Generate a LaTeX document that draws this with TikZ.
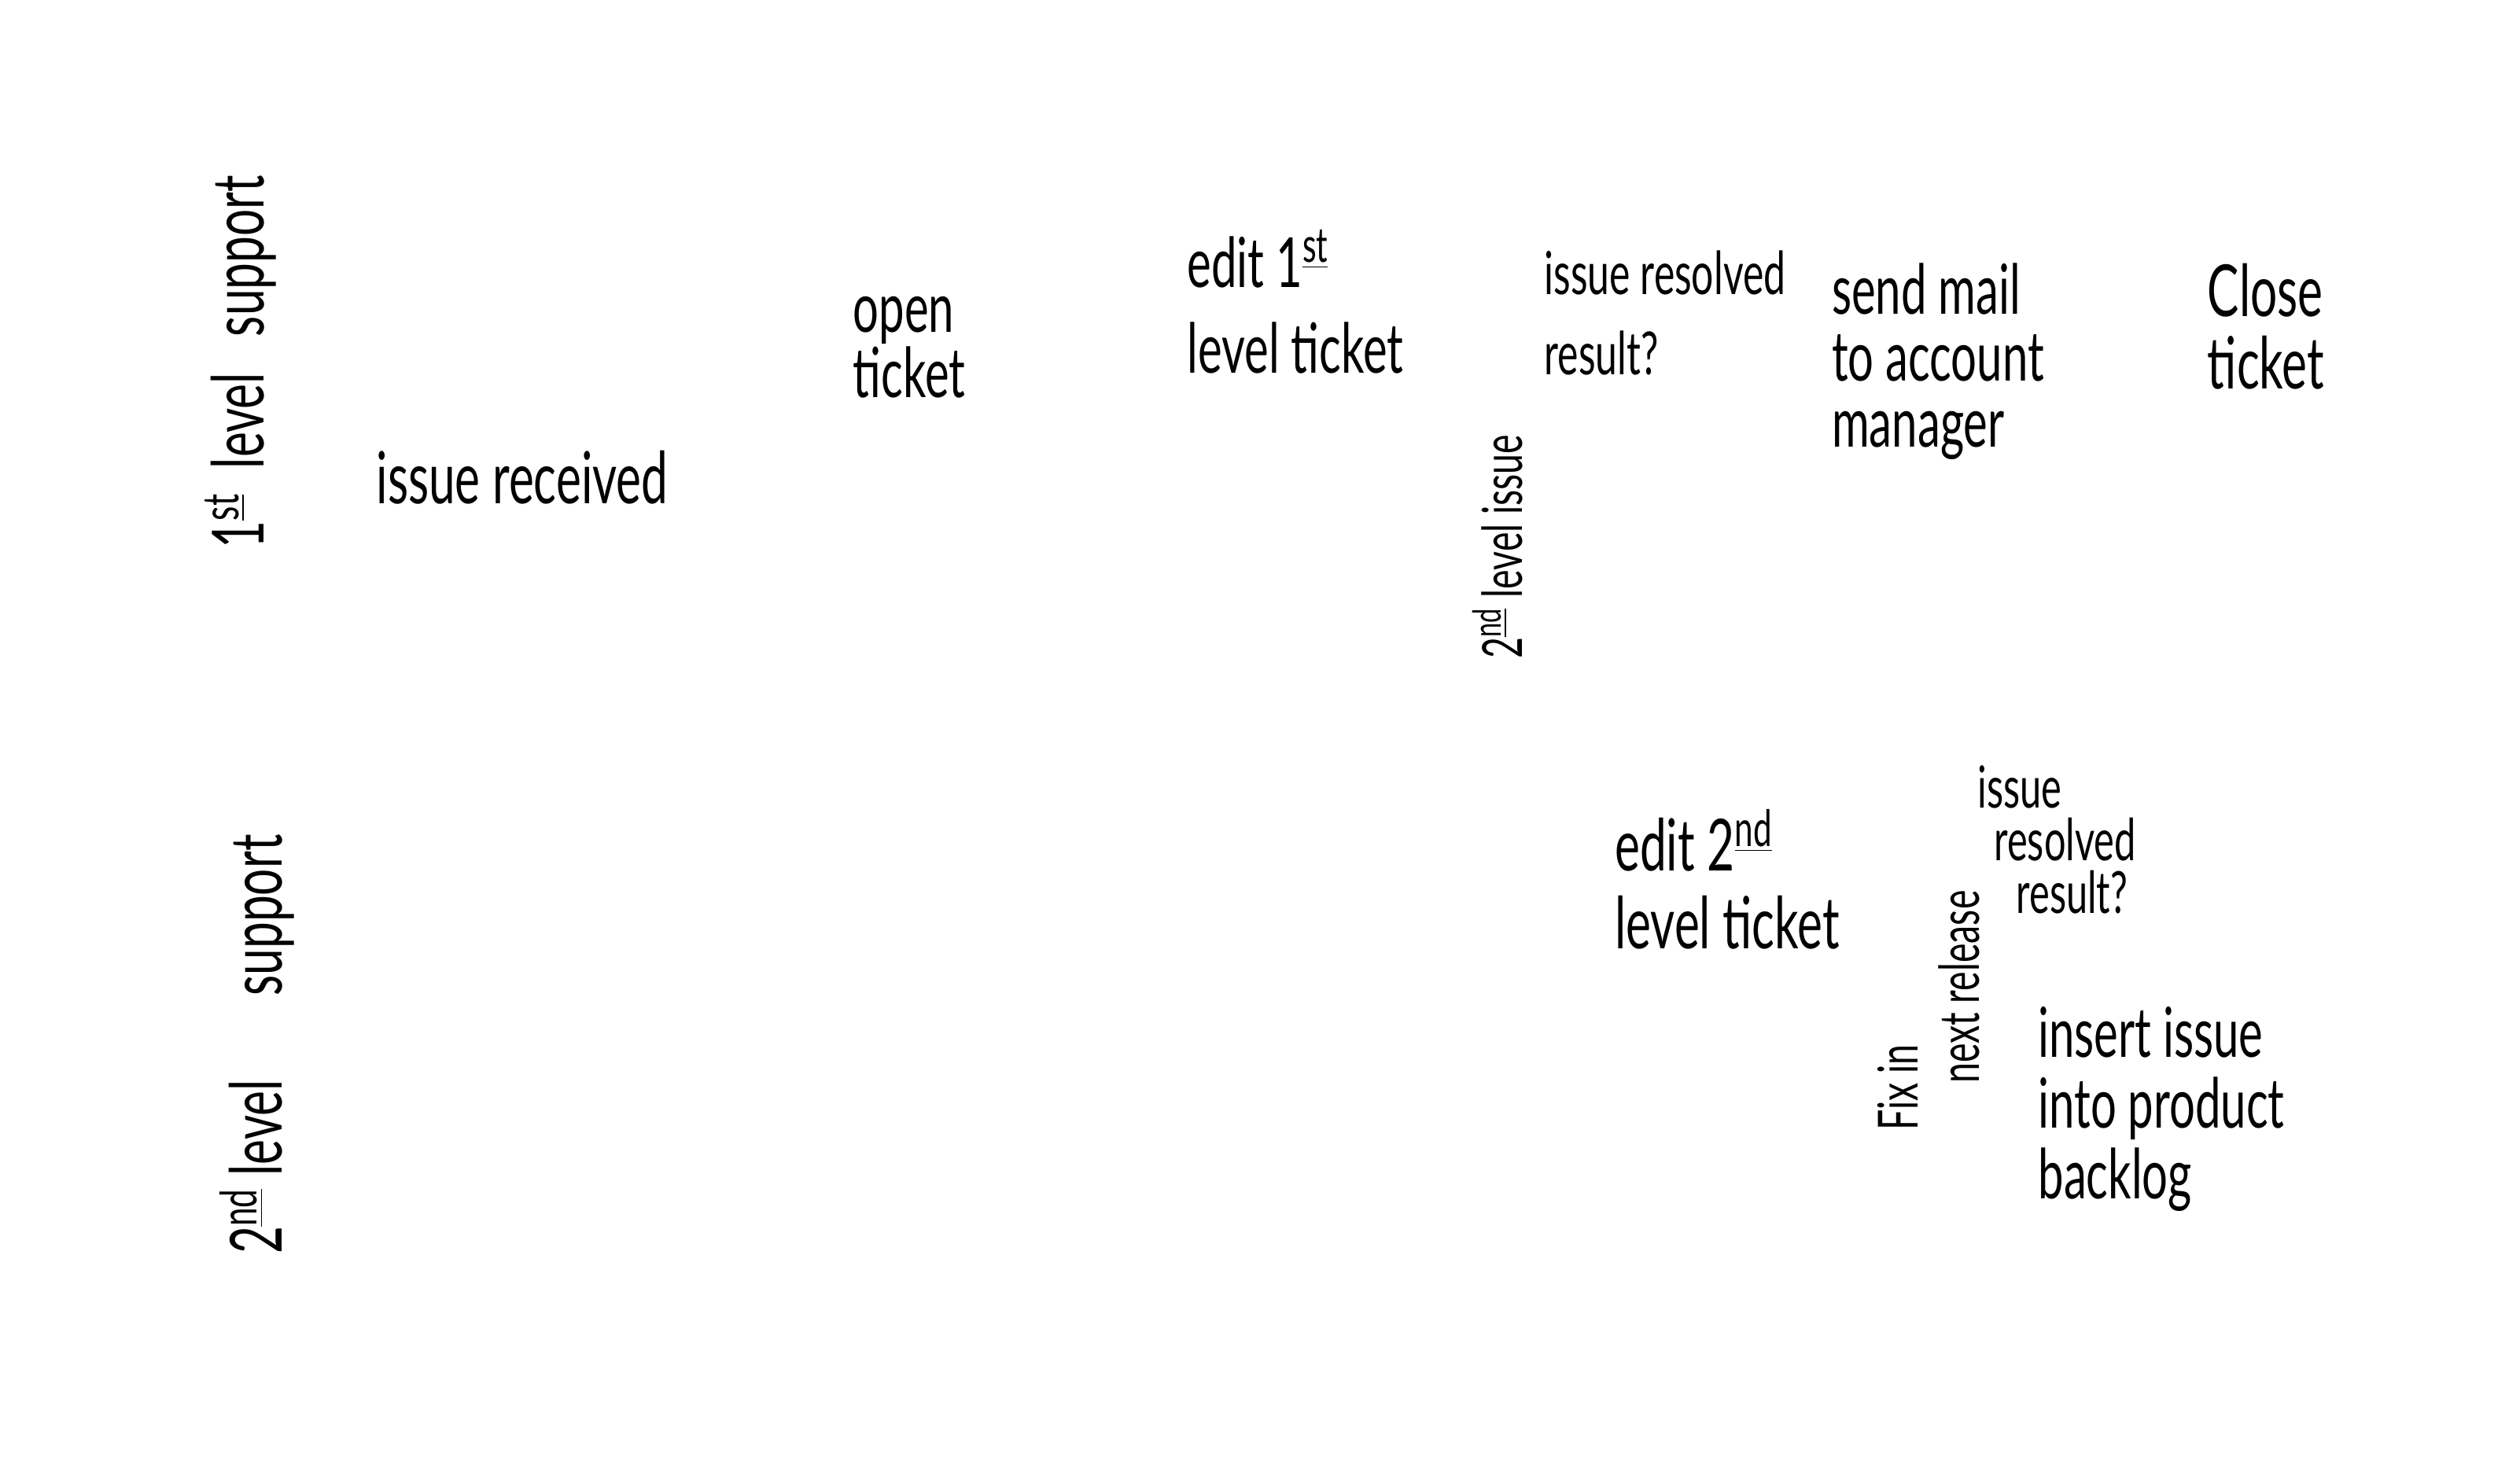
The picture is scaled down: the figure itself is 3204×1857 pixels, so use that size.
\documentclass[tikz,border=0pt]{standalone}
\usepackage{fontspec}
\newfontfamily\handfont[FakeStretch=0.66]{Lato}
\tikzset{
  txt/.style 2 args={font=\handfont\fontsize{#1}{#2}\selectfont, align=left, inner sep=0pt, text=black},
}
\newcommand{\sups}[1]{\textsuperscript{\underline{#1}}}
\begin{document}
\begin{tikzpicture}[x=0.01cm,y=-0.01cm]
\useasboundingbox[fill=white] (0,0) rectangle (3204,1857);
% 1st level lane label
\node[txt={26}{26}, rotate=90] (supone) at (306,460) {1\sups{st}\ \ level\ \ \ support};
\node[txt={26}{26}] (recv) at (664,607) {issue received};
\node[txt={25}{22}] (open) at (1156,442) {open\\ticket};
\node[txt={25}{31}] (editone) at (1647,384) {edit 1\sups{st}\\level ticket};
\node[txt={21.5}{29}] (resone) at (2117,398) {issue resolved\\result?};
\node[txt={25}{24}] (mail) at (2464,460) {send mail\\to account\\manager};
\node[txt={26}{26}] (close) at (2881,415) {Close\\ticket};
\node[txt={20}{20}, rotate=90] (isstwo) at (1904,695) {2\sups{nd} level issue};
% 2nd level lane label
\node[txt={26}{26}, rotate=90] (suptwo) at (327,1328) {2\sups{nd}\ level\quad\ support};
\node[txt={26}{28}] (edittwo) at (2196,1118) {edit 2\sups{nd}\\level ticket};
\node[txt={21}{19}] (restwo) at (2615,1068) {issue\\\hspace*{6pt}resolved\\\hspace*{14pt}result?};
\node[txt={20}{22}, rotate=90] (fix) at (2452,1285) {Fix in\\\hspace*{17pt}next release};
\node[txt={25}{25.6}] (backlog) at (2748,1410) {insert issue\\into product\\backlog};
\end{tikzpicture}
\end{document}
